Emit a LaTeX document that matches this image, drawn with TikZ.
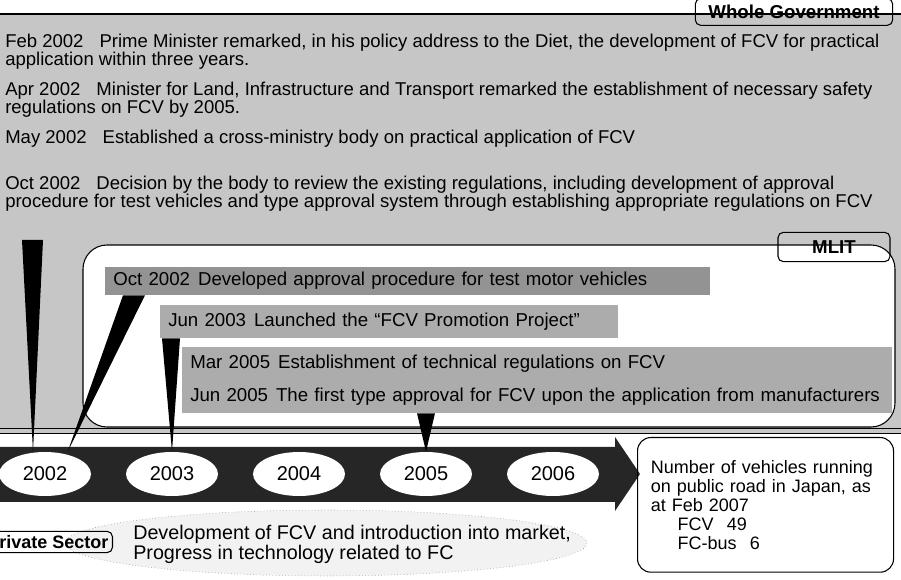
\documentclass[tikz,border=0pt]{standalone}
\usepackage{fontspec}
\setmainfont{Liberation Sans}
\usetikzlibrary{shapes.geometric,positioning}

\begin{document}
\begin{tikzpicture}[x=0.75pt, y=-0.75pt, every node/.style={font=\fontsize{13.9}{13.5}\selectfont, inner sep=0pt},
  tag/.style={draw, thick, rounded corners=4pt, font=\bfseries\fontsize{14}{14}\selectfont},
  para/.style={anchor=north west, align=left},
  event/.style={anchor=west, align=left, inner xsep=6pt, font=\fontsize{14}{14}\selectfont},
  year/.style={ellipse, fill=white, minimum width=69pt, minimum height=33pt, font=\fontsize{15}{15}\selectfont},
  pointer/.style={fill=black}]
  \useasboundingbox (0,0) rectangle (901,580);
  \clip (0,0) rectangle (901,580);

  % Whole Government
  \fill[gray!45] (0,14) rectangle (901,433);
  \draw[thick] (0,14) -- (901,14);
  \draw (0,428) -- (901,428);
  \draw (0,433) -- (901,433);
  \node[tag, minimum width=148pt, minimum height=20pt] (wg) at (794,12) {Whole Government};
  \node[para] (feb) at (5,34) {Feb 2002\hspace{12pt}Prime Minister remarked, in his policy address to the Diet, the development of FCV for practical\\application within three years.};
  \node[para] (apr) at (5,82) {Apr 2002\hspace{12pt}Minister for Land, Infrastructure and Transport remarked the establishment of necessary safety\\regulations on FCV by 2005.};
  \node[para] (may) at (5,130) {May 2002\hspace{12pt}Established a cross-ministry body on practical application of FCV};
  \node[para] (oct) at (5,176) {Oct 2002\hspace{12pt}Decision by the body to review the existing regulations, including development of\hspace{4pt}approval\\procedure for test vehicles and type approval system through establishing appropriate regulations on FCV};
  \coordinate (wgfoot) at (22,240);

  % MLIT
  \draw[thick, fill=white, rounded corners=18pt] (83,245) rectangle (895,427);
  \node[tag, minimum width=84pt, minimum height=22pt] (mlit) at (834,247) {MLIT};
  \node[event, fill=gray!85, text width=441.75pt, minimum height=21pt] (ev02) at (105,281) {Oct 2002\hspace{6pt}Developed approval procedure for test motor vehicles};
  \node[event, fill=gray!65, text width=331.5pt, minimum height=24.75pt] (ev03) at (160,321.5) {Jun 2003\hspace{6pt}Launched the ``FCV Promotion Project''};
  \node[event, fill=gray!65, text width=520.5pt, minimum height=49.5pt, font=\fontsize{14}{24.75}\selectfont] (ev05) at (182,380) {Mar 2005\hspace{6pt}Establishment of technical regulations on FCV\\Jun 2005\hspace{6pt}The first type approval for FCV upon the application from manufacturers};

  % Timeline
  \fill[black!85] (0,447) -- (615,447) -- (615,437) -- (640,474) -- (615,511) -- (615,502) -- (0,502) -- cycle;
  \node[year] (y2002) at (45,474) {2002};
  \node[year] (y2003) at (172,474) {2003};
  \node[year] (y2004) at (299,474) {2004};
  \node[year] (y2005) at (426,474) {2005};
  \node[year] (y2006) at (553,474) {2006};

  % Pointers
  \fill[pointer] (wgfoot) -- ++(21,0) -- ([xshift=-9pt]y2002.north) -- cycle;
  \fill[pointer] (ev02.south west) ++(18,0) -- ++(22,0) -- ([xshift=17pt]y2002.north) -- cycle;
  \fill[pointer] (ev03.south west) ++(2,0) -- ++(18,0) -- (y2003.north) -- cycle;
  \fill[pointer] (ev05.south west) ++(235,0) -- ++(18,0) -- (y2005.north) -- cycle;

  % Number of vehicles
  \node[draw, thick, rounded corners=10pt, anchor=north west, text width=172pt, minimum height=101pt,
    inner xsep=10pt, inner ysep=0pt, align=left, font=\fontsize{13.5}{14.3}\selectfont] (count) at (637,437)
    {Number of vehicles running\\on public road in Japan, as\\at Feb 2007\\\hspace*{20pt}FCV\hspace{10pt}49\\\hspace*{20pt}FC-bus\hspace{10pt}6};

  % Private Sector
  \draw[gray, dotted, fill=gray!10] (326,543) ellipse (261 and 33);
  \node[tag, anchor=east, inner sep=3pt, font=\bfseries\fontsize{13.5}{14}\selectfont] (private) at (113,542) {Private Sector};
  \node[anchor=west, align=left, font=\fontsize{14.8}{15}\selectfont] (dev) at (133,544)
    {Development of FCV and introduction into market,\\Progress in technology related to FC};
\end{tikzpicture}
\end{document}
